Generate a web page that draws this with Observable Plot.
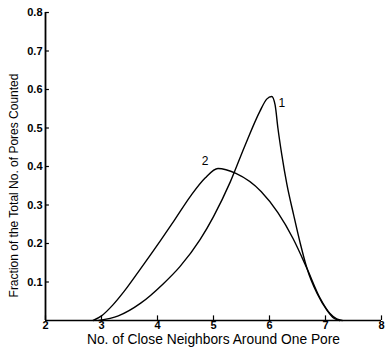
<!DOCTYPE html>
<html>
<head>
<meta charset="utf-8">
<script src="https://cdn.jsdelivr.net/npm/d3@7"></script>
<script src="https://cdn.jsdelivr.net/npm/@observablehq/plot@0.6"></script>
<style>
  html, body { margin: 0; padding: 0; background: #fff; }
  svg { display: block; }
</style>
</head>
<body>
<div id="chart"></div>
<script>
const xTicks = [2, 3, 4, 5, 6, 7, 8];
const yTicks = [0.1, 0.2, 0.3, 0.4, 0.5, 0.6, 0.7, 0.8];

const curve1X = [2.95, 3.3, 3.7, 4.1, 4.4, 4.76, 5.0, 5.3, 5.55, 5.83, 5.95, 6.04, 6.1, 6.15, 6.22, 6.31, 6.43, 6.55, 6.67, 6.85, 7.03, 7.15, 7.25];
const curve1Y = [0.0, 0.012, 0.045, 0.095, 0.14, 0.21, 0.27, 0.36, 0.45, 0.544, 0.575, 0.582, 0.56, 0.5, 0.43, 0.354, 0.275, 0.2, 0.135, 0.07, 0.026, 0.006, 0.0];

const curve2X = [2.85, 3.0, 3.2, 3.4, 3.69, 4.05, 4.3, 4.6, 4.85, 5.08, 5.4, 5.85, 6.15, 6.42, 6.67, 6.9, 7.08, 7.2, 7.3];
const curve2Y = [0.0, 0.012, 0.04, 0.075, 0.133, 0.207, 0.26, 0.325, 0.37, 0.395, 0.382, 0.335, 0.28, 0.213, 0.135, 0.059, 0.018, 0.004, 0.0];

const curveLabels = ["1", "2"];
const labelX = [6.22, 4.85];
const labelY = [0.565, 0.415];

const xLabel = "No. of Close Neighbors Around One Pore";
const yLabel = "Fraction of the Total No. of Pores Counted";

const c1 = curve1X.map((x, i) => ({x, y: curve1Y[i]}));
const c2 = curve2X.map((x, i) => ({x, y: curve2Y[i]}));
const labs = curveLabels.map((t, i) => ({t, x: labelX[i], y: labelY[i]}));

const font = "'Liberation Sans Narrow', 'Liberation Sans', 'DejaVu Sans Condensed', sans-serif";

const chart = Plot.plot({
  width: 385,
  height: 351,
  marginLeft: 45,
  marginRight: 4,
  marginTop: 12,
  marginBottom: 31,
  style: {fontFamily: font, fontSize: "11px", color: "#000", background: "#fff"},
  x: {domain: [2, 8]},
  y: {domain: [0, 0.8]},
  marks: [
    Plot.axisX(xTicks, {tickSize: 0, tickPadding: 1, label: null, fontSize: 11, fontWeight: "bold", tickFormat: d => String(d)}),
    Plot.axisY(yTicks, {tickSize: 0, tickPadding: 3, label: null, fontSize: 11, fontWeight: "bold", tickFormat: d => d.toFixed(1)}),
    Plot.ruleX(xTicks, {x: d => d, y1: 0, y2: 0.012, stroke: "#000", strokeWidth: 1.2}),
    Plot.ruleY(yTicks, {y: d => d, x1: 2, x2: 2.07, stroke: "#000", strokeWidth: 1.2}),
    Plot.ruleY([0], {stroke: "#000", strokeWidth: 1.5}),
    Plot.ruleX([2], {stroke: "#000", strokeWidth: 1.8}),
    Plot.line(c1, {x: "x", y: "y", stroke: "#000", strokeWidth: 1.4, curve: "monotone-x"}),
    Plot.line(c2, {x: "x", y: "y", stroke: "#000", strokeWidth: 1.4, curve: "monotone-x"}),
    Plot.text(labs, {x: "x", y: "y", text: "t", fontSize: 12, fill: "#000"}),
    Plot.text([xLabel], {frameAnchor: "bottom", dy: 23, fontSize: 13.8, fill: "#000"}),
    Plot.text([yLabel], {frameAnchor: "left", textAnchor: "middle", rotate: -90, dx: -31, dy: 19, fontSize: 12, fill: "#000"})
  ]
});
document.getElementById("chart").appendChild(chart);
</script>
</body>
</html>
